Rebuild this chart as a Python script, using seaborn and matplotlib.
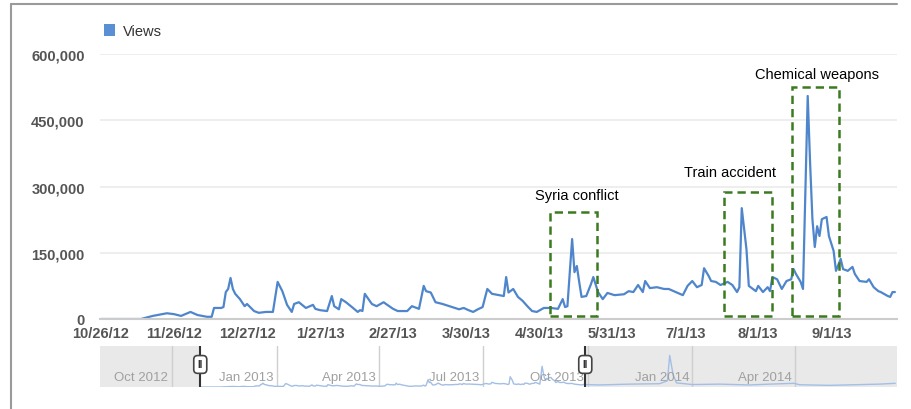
import pandas as pd
import numpy as np
import matplotlib
matplotlib.use("Agg")
import matplotlib.pyplot as plt
import matplotlib.dates as mdates
from matplotlib.patches import Rectangle, Patch
from matplotlib.lines import Line2D
from matplotlib.ticker import FuncFormatter
import seaborn as sns

# daily page views (day offset from 10/26/12, thousands of views)
start_date = "2012-10-26"
day_offset = [0, 17, 22, 28, 31, 34, 38, 41, 45, 47, 48, 51, 52, 53, 54, 55, 56, 57, 59, 61,
              62, 65, 67, 70, 73, 75, 77, 79, 81, 82, 84, 87, 90, 91, 93, 96, 98, 99, 101, 102,
              104, 107, 109, 110, 111, 112, 115, 117, 120, 121, 124, 126, 130, 132, 134, 135, 137, 138, 140, 142,
              145, 149, 152, 154, 156, 158, 160, 162, 164, 166, 169, 171, 172, 173, 175, 177, 179, 181, 183, 185,
              188, 191, 194, 196, 197, 198, 200, 201, 202, 203, 204, 206, 208, 209, 211, 213, 215, 218, 222, 224,
              226, 228, 230, 231, 233, 236, 239, 241, 244, 247, 249, 251, 253, 255, 256, 258, 259, 261, 263, 266,
              268, 270, 271, 272, 274, 275, 278, 279, 281, 283, 284, 285, 287, 289, 291, 293, 294, 295, 297, 298,
              300, 301, 302, 303, 304, 305, 306, 308, 309, 311, 312, 314, 315, 317, 319, 320, 322, 325, 326, 328,
              330, 331, 334, 335, 336, 337]
views_k = [0, 0, 7, 13, 11, 7, 16, 9, 5, 5, 25, 25, 27, 61, 68, 93, 68, 57, 45, 29,
           34, 18, 14, 16, 16, 84, 63, 32, 16, 34, 38, 25, 32, 23, 20, 18, 52, 29, 22, 45,
           38, 25, 16, 20, 18, 57, 34, 29, 38, 34, 23, 18, 18, 29, 25, 23, 75, 63, 60, 38,
           34, 27, 22, 25, 20, 16, 22, 27, 68, 57, 54, 52, 95, 60, 68, 50, 41, 29, 18, 16,
           25, 25, 23, 45, 27, 29, 181, 106, 120, 84, 50, 52, 79, 95, 61, 45, 59, 54, 56, 63,
           61, 77, 61, 86, 70, 72, 68, 68, 61, 54, 75, 86, 72, 77, 115, 97, 86, 84, 77, 84,
           77, 61, 72, 251, 158, 75, 63, 75, 61, 72, 63, 95, 90, 68, 86, 90, 113, 102, 84, 68,
           505, 355, 226, 163, 210, 188, 226, 231, 188, 154, 109, 136, 113, 109, 118, 102, 86, 84, 90, 72,
           63, 61, 52, 50, 61, 61]

# later part of the timeline, only shown in the range navigator
later_offset = [350, 377, 403, 410, 412, 415, 418, 432, 456, 482, 500, 521, 526, 552, 579, 596, 610]
later_views_k = [50, 70, 80, 150, 770, 300, 100, 60, 70, 50, 70, 90, 55, 40, 60, 70, 90]

tick_labels = ["10/26/12", "11/26/12", "12/27/12", "1/27/13", "2/27/13", "3/30/13",
               "4/30/13", "5/31/13", "7/1/13", "8/1/13", "9/1/13"]
nav_labels = ["Oct 2012", "Jan 2013", "Apr 2013", "Jul 2013", "Oct 2013", "Jan 2014", "Apr 2014"]
nav_quarters = ["2012-10-01", "2013-01-01", "2013-04-01", "2013-07-01", "2013-10-01", "2014-01-01", "2014-04-01"]

event_labels = ["Syria conflict", "Train accident", "Chemical weapons"]
event_start = [190.6, 264.4, 293.3]
event_end = [210.5, 284.8, 313.2]

start = pd.Timestamp(start_date)
df = pd.DataFrame({"date": start + pd.to_timedelta(day_offset, unit="D"),
                   "views": np.array(views_k) * 1000})
nav_df = pd.DataFrame({"date": start + pd.to_timedelta(day_offset + later_offset, unit="D"),
                       "views": np.array(views_k + later_views_k) * 1000})

sns.set_style("white")
plt.rcParams["font.family"] = ["Liberation Sans", "DejaVu Sans"]

line_color = "#4f86cb"
green = "#3b7a1e"
t0 = mdates.date2num(start)

fig = plt.figure(figsize=(9.12, 4.10), dpi=100)
ax = fig.add_axes([100 / 912, 90 / 410, 797 / 912, 265 / 410])

sns.lineplot(data=df, x="date", y="views", ax=ax, color=line_color, linewidth=1.6)

ax.set_xlim(t0 - 0.4, t0 + 337.9)
ax.set_ylim(0, 600000)
ax.set_yticks([0, 150000, 300000, 450000, 600000])
ax.yaxis.set_major_formatter(FuncFormatter(lambda v, p: f"{v:,.0f}"))
ax.set_xticks([mdates.date2num(pd.Timestamp(d)) for d in
               ["2012-10-26", "2012-11-26", "2012-12-27", "2013-01-27", "2013-02-27", "2013-03-30",
                "2013-04-30", "2013-05-31", "2013-07-01", "2013-08-01", "2013-09-01"]])
ax.set_xticklabels(tick_labels)
ax.tick_params(axis="both", length=0, labelsize=10.5, labelcolor="#555555")
ax.tick_params(axis="y", pad=11)
ax.tick_params(axis="x", pad=5)
for lab in ax.get_xticklabels() + ax.get_yticklabels():
    lab.set_fontweight("bold")
ax.grid(axis="y", color="#ebebeb", linewidth=1.2)
ax.set_axisbelow(True)
for s in ["left", "right", "top"]:
    ax.spines[s].set_visible(False)
ax.spines["bottom"].set_color("#cccccc")
ax.spines["bottom"].set_linewidth(1.5)
ax.set_xlabel("")
ax.set_ylabel("")

# dashed boxes around the news events
box_tops = [242000, 287000, 525000]
text_pos = [(202, 280000), (267, 333000), (304, 554000)]
for lab, s, e, top, (tx, ty) in zip(event_labels, event_start, event_end, box_tops, text_pos):
    ax.add_patch(Rectangle((t0 + s, 7000), e - s, top - 7000, fill=False, edgecolor=green,
                           linewidth=1.8, linestyle=(0, (3.3, 2.0)), clip_on=False, zorder=5))
    ax.text(t0 + tx, ty, lab, ha="center", va="center", fontsize=10.5, color="black", clip_on=False)

ax.legend(handles=[Patch(facecolor="#5b8fd3", edgecolor="none", label="Views")],
          loc="center left", bbox_to_anchor=(98 / 912, 1 - 32 / 410),
          bbox_transform=fig.transFigure, frameon=False, handlelength=0.8, handleheight=0.8,
          handletextpad=0.5, fontsize=10.5, labelcolor="#333333", borderaxespad=0)

# range navigator below the chart
nav = fig.add_axes([100 / 912, 22 / 410, 797 / 912, 41 / 410])
sns.lineplot(data=nav_df, x="date", y="views", ax=nav, color="#a3bfe6", linewidth=1.0)
nav_left = t0 - 88
nav_right = t0 + 611.5
nav.set_xlim(nav_left, nav_right)
nav.set_ylim(0, 1000000)
h1 = t0
h2 = t0 + 337.9
nav.axvspan(nav_left, h1, color="#e9e9e9", zorder=0, linewidth=0)
nav.axvspan(h2, nav_right, color="#e9e9e9", zorder=0, linewidth=0)
for q, lab in zip(nav_quarters, nav_labels):
    qx = mdates.date2num(pd.Timestamp(q))
    nav.axvline(qx, color="#cfcfcf", linewidth=1.0, zorder=1)
    nav.text(qx - 3, 0.24, lab, transform=nav.get_xaxis_transform(), ha="right", va="center",
             fontsize=9.5, color="#a0a0a0")
for hx in [h1, h2]:
    nav.axvline(hx, color="#333333", linewidth=1.5, zorder=4)
    nav.text(hx, 0.55, "II", transform=nav.get_xaxis_transform(), ha="center", va="center",
             fontsize=7, fontweight="bold", color="#333333", zorder=5,
             bbox=dict(boxstyle="round,pad=0.4", fc="white", ec="#444444", lw=1.2))
nav.set_xticks([])
nav.set_yticks([])
nav.set_xlabel("")
nav.set_ylabel("")
for s in nav.spines.values():
    s.set_visible(False)

# outer frame of the screenshot
fig.add_artist(Line2D([11 / 912, 897 / 912], [1 - 5 / 410, 1 - 5 / 410], color="#9a9a9a", linewidth=1.5))
fig.add_artist(Line2D([11 / 912, 11 / 912], [1 - 5 / 410, 0], color="#9a9a9a", linewidth=1.5))

fig.savefig("out.png", dpi=100)
